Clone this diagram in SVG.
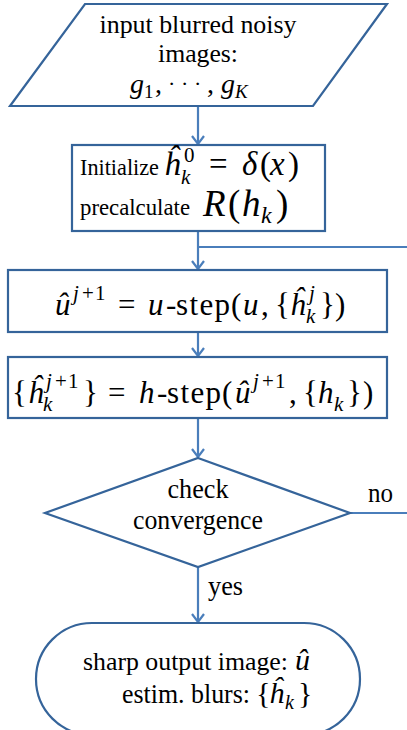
<svg xmlns="http://www.w3.org/2000/svg" width="407" height="730" viewBox="0 0 407 730">
<style>
.node{fill:#fff;stroke:#35649A;stroke-width:2.2}
.conn{fill:none;stroke:#4A7EBB;stroke-width:2.2}
text{font-family:"Liberation Serif","Times New Roman",serif;fill:#000}
.t{font-size:27px}
.m{font-size:31px}
.i{font-style:italic}
.s{font-size:21px}
</style>
<defs>
<marker id="arr" markerUnits="userSpaceOnUse" markerWidth="16" markerHeight="16" refX="10" refY="7" orient="auto">
<path d="M2,1 L10,7 L2,13" fill="none" stroke="#4A7EBB" stroke-width="2.2"/>
</marker>
</defs>
<rect width="407" height="730" fill="#fff"/>
<g id="connectors">
<line class="conn" x1="198" y1="106" x2="198" y2="144" marker-end="url(#arr)"/>
<line class="conn" x1="198" y1="231" x2="198" y2="269" marker-end="url(#arr)"/>
<line class="conn" x1="198" y1="247" x2="407" y2="247"/>
<line class="conn" x1="198" y1="332" x2="198" y2="356" marker-end="url(#arr)"/>
<line class="conn" x1="198" y1="418" x2="198" y2="457" marker-end="url(#arr)"/>
<line class="conn" x1="350" y1="513" x2="407" y2="513"/>
<line class="conn" x1="198" y1="567" x2="198" y2="622" marker-end="url(#arr)"/>
<text class="t" x="368" y="502" textLength="25" lengthAdjust="spacingAndGlyphs">no</text>
<text class="t" x="208" y="595" textLength="35" lengthAdjust="spacingAndGlyphs">yes</text>
</g>
<g id="input">
<polygon class="node" points="85,4 387,4 313,106 10,106"/>
<text style="font-size:25px" x="198" y="33" text-anchor="middle" textLength="197" lengthAdjust="spacingAndGlyphs">input blurred noisy</text>
<text style="font-size:25px" x="198" y="62" text-anchor="middle" textLength="80" lengthAdjust="spacingAndGlyphs">images:</text>
<text style="font-size:28px" y="93"><tspan class="i" x="130">g</tspan><tspan style="font-size:19px" x="144" y="98">1</tspan><tspan x="155" y="93">,</tspan><tspan style="font-size:22px" y="91" x="168">·</tspan><tspan style="font-size:22px" x="181">·</tspan><tspan style="font-size:22px" x="194">·</tspan><tspan x="207" y="93">,</tspan><tspan class="i" x="221">g</tspan><tspan class="i" style="font-size:19px" x="235" y="98">K</tspan></text>
</g>
<g id="init">
<rect class="node" x="72" y="145" width="253" height="86"/>
<text style="font-size:23px" x="80" y="175" textLength="79" lengthAdjust="spacingAndGlyphs">Initialize</text>
<text style="font-size:33px" y="175"><tspan class="i" x="164">ĥ</tspan><tspan class="s" x="184" y="162">0</tspan><tspan class="s i" x="181" y="184">k</tspan><tspan x="209" y="175">=</tspan><tspan class="i" x="242">δ</tspan><tspan x="260">(</tspan><tspan class="i" x="270">x</tspan><tspan x="288">)</tspan></text>
<text style="font-size:23px" x="80" y="215" textLength="110" lengthAdjust="spacingAndGlyphs">precalculate</text>
<text style="font-size:37px" y="216"><tspan class="i" x="203">R</tspan><tspan x="228">(</tspan><tspan class="i" x="242">h</tspan><tspan class="i" style="font-size:24px" x="261" y="223">k</tspan><tspan x="276" y="216">)</tspan></text>
</g>
<g id="ustep">
<rect class="node" x="8" y="270" width="379" height="62"/>
<text class="m" y="315"><tspan class="i" x="55">û</tspan><tspan class="s i" x="73" y="300">j</tspan><tspan class="s" x="82">+</tspan><tspan class="s" x="95">1</tspan><tspan x="118" y="315">=</tspan><tspan class="i" x="148">u</tspan><tspan x="166">-</tspan><tspan x="176" textLength="54">step</tspan><tspan x="231">(</tspan><tspan class="i" x="243">u</tspan><tspan x="261">,</tspan><tspan x="275">{</tspan><tspan class="i" x="290">ĥ</tspan><tspan class="s i" x="309" y="300">j</tspan><tspan class="s i" x="306" y="323">k</tspan><tspan x="320" y="315">}</tspan><tspan x="335">)</tspan></text>
</g>
<g id="hstep">
<rect class="node" x="8" y="357" width="379" height="61"/>
<text class="m" y="403"><tspan x="12">{</tspan><tspan class="i" x="28">ĥ</tspan><tspan class="s i" x="46" y="388">j</tspan><tspan class="s" x="55">+</tspan><tspan class="s" x="68">1</tspan><tspan class="s i" x="43" y="411">k</tspan><tspan x="83" y="403">}</tspan><tspan x="108">=</tspan><tspan class="i" x="139">h</tspan><tspan x="157">-</tspan><tspan x="167" textLength="54">step</tspan><tspan x="222">(</tspan><tspan class="i" x="235">û</tspan><tspan class="s i" x="253" y="388">j</tspan><tspan class="s" x="262">+</tspan><tspan class="s" x="275">1</tspan><tspan x="289" y="403">,</tspan><tspan x="303">{</tspan><tspan class="i" x="318">h</tspan><tspan class="s i" x="334" y="411">k</tspan><tspan x="347" y="403">}</tspan><tspan x="363">)</tspan></text>
</g>
<g id="check">
<polygon class="node" points="198,458 350,513 198,567 45,513"/>
<text class="t" x="198" y="498" text-anchor="middle" textLength="61" lengthAdjust="spacingAndGlyphs">check</text>
<text class="t" x="198" y="529" text-anchor="middle" textLength="130" lengthAdjust="spacingAndGlyphs">convergence</text>
</g>
<g id="output">
<rect class="node" x="36" y="623" width="324" height="112" rx="56" ry="56"/>
<text style="font-size:25px" x="83" y="670" textLength="205" lengthAdjust="spacingAndGlyphs">sharp output image:</text>
<text class="i" style="font-size:30px" x="295" y="670">û</text>
<text class="t" x="122" y="703" textLength="128" lengthAdjust="spacingAndGlyphs">estim. blurs:</text>
<text style="font-size:30px" y="703"><tspan x="256">{</tspan><tspan class="i" x="269">ĥ</tspan><tspan class="i" style="font-size:20px" x="285" y="709">k</tspan><tspan x="298" y="703">}</tspan></text>
</g>
</svg>
